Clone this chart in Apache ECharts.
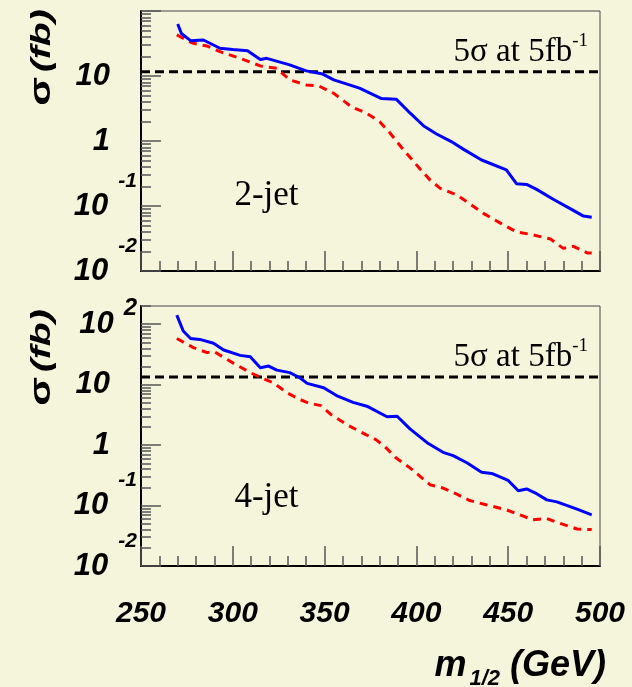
<!DOCTYPE html>
<html>
<head>
<meta charset="utf-8">
<script src="https://cdn.jsdelivr.net/npm/echarts@6/dist/echarts.min.js"></script>
<style>
  html, body { margin: 0; padding: 0; background: #f5f5dc; }
  #main { width: 632px; height: 687px; }
</style>
</head>
<body>
<div id="main"></div>
<script>
// 2-jet panel
var massTwoBlue = [270, 272, 277, 284, 293, 300, 308, 315, 318.5, 331, 340, 349, 355, 369, 381, 389, 396.5, 404, 411, 419, 425.5, 435.5, 449, 454.5, 460, 465.5, 474.5, 483.5, 491, 495.5];
var sigmaTwoBlue = [63, 45, 35, 35.8, 26.7, 25.5, 24.5, 18, 18.7, 14.8, 12, 10.7, 8.7, 6.5, 4.5, 4.4, 2.7, 1.7, 1.28, 0.98, 0.75, 0.51, 0.36, 0.22, 0.215, 0.18, 0.127, 0.092, 0.070, 0.067];
var massTwoRed = [269.5, 278.5, 286, 293, 304, 315, 324, 331, 340, 347, 355, 365, 373, 380, 385.5, 393, 402, 407.5, 413, 422, 427.5, 436.5, 445.5, 454.5, 463.5, 473, 480, 485.5, 493, 495.5];
var sigmaTwoRed = [42.8, 31.8, 28.9, 23.7, 18.7, 14.3, 13.1, 8.7, 7.3, 7.0, 5.4, 3.3, 2.67, 1.98, 1.34, 0.73, 0.37, 0.25, 0.187, 0.148, 0.116, 0.077, 0.055, 0.040, 0.036, 0.031, 0.0223, 0.024, 0.019, 0.019];

// 4-jet panel
var massFourBlue = [269.5, 273, 277, 282, 289.5, 295, 304, 309.5, 315, 319.5, 324, 331, 336.5, 340.5, 349.5, 356.5, 365.5, 373, 384, 389.5, 396.5, 406.5, 414.5, 420, 427.5, 435.5, 441, 450, 455.5, 460, 465.5, 471, 476.5, 487.5, 495.5];
var sigmaFourBlue = [141, 77, 58, 56, 48.4, 37.4, 30.5, 29, 19.1, 20.3, 17.4, 15.8, 13, 10.5, 8.9, 6.6, 5.1, 4.4, 2.94, 3.0, 1.86, 1.06, 0.76, 0.67, 0.51, 0.354, 0.34, 0.26, 0.176, 0.188, 0.157, 0.124, 0.115, 0.087, 0.070];
var massFourRed = [269.5, 278.5, 286, 289.5, 300.5, 309.5, 316.5, 322, 329.5, 336.5, 341, 348, 353.5, 362, 372.5, 378, 383.5, 389, 396.5, 407.5, 414.5, 421.5, 429, 438, 449, 456.5, 463.5, 471, 478, 487.5, 495.5];
var sigmaFourRed = [57.9, 41, 33.9, 35.6, 22.5, 15.8, 12.6, 10.8, 7.35, 5.7, 5.0, 4.5, 3.2, 2.19, 1.49, 1.23, 0.90, 0.61, 0.42, 0.22, 0.195, 0.157, 0.121, 0.103, 0.085, 0.070, 0.058, 0.061, 0.051, 0.041, 0.040];

// 5 sigma discovery line, 5 fb^-1
var thresholdMass = [250, 500];
var thresholdTwo = 11.6;
var thresholdFour = 13.4;

// axis ticks / labels
var majorTickValues = [0.01, 0.1, 1, 10, 100];
var majorTickLabels = ['{b|10}{e|-2}', '{b|10}{e|-1}', '{p|1}', '{p|10}', '{b|10}{f|2}'];
var minorMantissa = [2, 3, 4, 5, 6, 7, 8, 9];
var decades = [0.01, 0.1, 1, 10, 100];

var minorTicks = [];
decades.forEach(function (d) {
    minorMantissa.forEach(function (m) { minorTicks.push(+(d * m).toPrecision(3)); });
});

function pairs(xs, ys) {
    return xs.map(function (x, i) { return [x, ys[i]]; });
}
function flatLine(v) {
    return thresholdMass.map(function (x) { return [x, v]; });
}

var font = "'Liberation Sans', Arial, sans-serif";
var serif = "'Liberation Serif', 'Times New Roman', serif";

function yLabel(v) {
    for (var i = 0; i < majorTickValues.length; i++) {
        if (Math.abs(Math.log10(v) - Math.log10(majorTickValues[i])) < 1e-6) return majorTickLabels[i];
    }
    return '';
}

var labelRich = {
    b: { fontSize: 31, fontWeight: 'bold', fontStyle: 'italic', fontFamily: font, color: '#000' },
    p: { fontSize: 31, fontWeight: 'bold', fontStyle: 'italic', fontFamily: font, color: '#000', padding: [0, 27, 0, 0] },
    e: { fontSize: 21, fontWeight: 'bold', fontStyle: 'italic', fontFamily: font, color: '#000', padding: [0, 0, 50, 10] },
    f: { fontSize: 24, fontWeight: 'bold', fontStyle: 'italic', fontFamily: font, color: '#000', padding: [0, 0, 32, 10] }
};

function majorY(gridIndex, max, labelValues) {
    return {
        type: 'log', logBase: 10, gridIndex: gridIndex, min: 0.01, max: max, position: 'left',
        axisLine: { show: true, lineStyle: { color: '#000', width: 2 } },
        axisTick: { show: true, inside: true, length: 20, customValues: majorTickValues,
            lineStyle: { color: '#555', width: 1.5 } },
        axisLabel: { show: true, margin: 4, customValues: labelValues, formatter: yLabel, rich: labelRich },
        splitLine: { show: false },
        minorTick: { show: false }, minorSplitLine: { show: false }
    };
}
function minorY(gridIndex, max) {
    return {
        type: 'log', logBase: 10, gridIndex: gridIndex, min: 0.01, max: max, position: 'left', offset: 0,
        axisLine: { show: false },
        axisTick: { show: true, inside: true, length: 10, customValues: minorTicks,
            lineStyle: { color: '#555', width: 1.5 } },
        axisLabel: { show: false },
        splitLine: { show: false }
    };
}
function xAx(gridIndex, showLabel) {
    return {
        type: 'value', gridIndex: gridIndex, min: 250, max: 500, interval: 50,
        axisLine: { show: true, onZero: false, lineStyle: { color: '#000', width: 2 } },
        axisTick: { show: true, inside: true, length: 20, lineStyle: { color: '#555', width: 1.5 } },
        minorTick: { show: true, splitNumber: 5, length: 10, lineStyle: { color: '#555', width: 1.5 } },
        axisLabel: { show: showLabel, margin: 33, fontSize: 30, fontWeight: 'bold', fontStyle: 'italic',
            fontFamily: font, color: '#000' },
        splitLine: { show: false }
    };
}

function blue(name, xi, yi, data) {
    return { name: name, type: 'line', xAxisIndex: xi, yAxisIndex: yi, data: data, symbol: 'none',
        lineStyle: { color: '#0000ff', width: 3 }, z: 4, silent: true, animation: false };
}
function red(name, xi, yi, data) {
    return { name: name, type: 'line', xAxisIndex: xi, yAxisIndex: yi, data: data, symbol: 'none',
        lineStyle: { color: '#ff0000', width: 3, type: [8, 6] }, z: 3, silent: true, animation: false };
}
function black(name, xi, yi, data) {
    return { name: name, type: 'line', xAxisIndex: xi, yAxisIndex: yi, data: data, symbol: 'none',
        lineStyle: { color: '#000', width: 3, type: [9, 5] }, z: 2, silent: true, animation: false };
}

var chart = echarts.init(document.getElementById('main'), null, { renderer: 'canvas' });

var titleRich = {
    s: { fontSize: 30, fontWeight: 'bold', fontFamily: font, fill: '#000' },
    f: { fontSize: 28, fontWeight: 'bold', fontStyle: 'italic', fontFamily: font, fill: '#000' }
};
var noteRich = {
    t: { fontSize: 33, fontFamily: serif, fill: '#000' },
    u: { fontSize: 19, fontFamily: serif, fill: '#000', padding: [0, 0, 22, 0] }
};

chart.setOption({
    backgroundColor: '#f5f5dc',
    animation: false,
    grid: [
        { left: 141, top: 11, width: 459, height: 260, show: true, borderColor: '#444', borderWidth: 1,
          backgroundColor: 'transparent', containLabel: false, outerBoundsMode: 'none' },
        { left: 141, top: 306, width: 459, height: 260, show: true, borderColor: '#444', borderWidth: 1,
          backgroundColor: 'transparent', containLabel: false, outerBoundsMode: 'none' }
    ],
    xAxis: [xAx(0, false), xAx(1, true)],
    yAxis: [
        majorY(0, 100, [0.01, 0.1, 1, 10]),
        minorY(0, 100),
        majorY(1, 200, [0.01, 0.1, 1, 10, 100]),
        minorY(1, 200)
    ],
    series: [
        black('5sigma 2-jet', 0, 0, flatLine(thresholdTwo)),
        red('2-jet red', 0, 0, pairs(massTwoRed, sigmaTwoRed)),
        blue('2-jet blue', 0, 0, pairs(massTwoBlue, sigmaTwoBlue)),
        black('5sigma 4-jet', 1, 2, flatLine(thresholdFour)),
        red('4-jet red', 1, 2, pairs(massFourRed, sigmaFourRed)),
        blue('4-jet blue', 1, 2, pairs(massFourBlue, sigmaFourBlue))
    ],
    graphic: [
        { type: 'text', x: 42, y: 57.5, rotation: Math.PI / 2, scaleX: 1.4,
          style: { text: '{s|σ} {f|(fb)}', rich: titleRich, align: 'center', verticalAlign: 'middle' } },
        { type: 'text', x: 42, y: 357.5, rotation: Math.PI / 2, scaleX: 1.4,
          style: { text: '{s|σ} {f|(fb)}', rich: titleRich, align: 'center', verticalAlign: 'middle' } },
        { type: 'text', x: 588, y: 52.5,
          style: { text: '{t|5σ at 5fb}{u|-1}', rich: noteRich, align: 'right', verticalAlign: 'middle' } },
        { type: 'text', x: 588, y: 357,
          style: { text: '{t|5σ at 5fb}{u|-1}', rich: noteRich, align: 'right', verticalAlign: 'middle' } },
        { type: 'text', x: 266.5, y: 196,
          style: { text: '2-jet', fontSize: 35, fontFamily: serif, fill: '#000', align: 'center', verticalAlign: 'middle' } },
        { type: 'text', x: 266.5, y: 497.5,
          style: { text: '4-jet', fontSize: 35, fontFamily: serif, fill: '#000', align: 'center', verticalAlign: 'middle' } },
        { type: 'text', x: 606, y: 666,
          style: {
              text: '{m|m}{s|1/2}{g| (GeV)}', align: 'right', verticalAlign: 'middle',
              rich: {
                  m: { fontSize: 36, fontWeight: 'bold', fontStyle: 'italic', fontFamily: font, fill: '#000' },
                  s: { fontSize: 22, fontWeight: 'bold', fontStyle: 'italic', fontFamily: font, fill: '#000', padding: [26, 0, 0, 3] },
                  g: { fontSize: 36, fontWeight: 'bold', fontStyle: 'italic', fontFamily: font, fill: '#000' }
              }
          } }
    ]
});
</script>
</body>
</html>
